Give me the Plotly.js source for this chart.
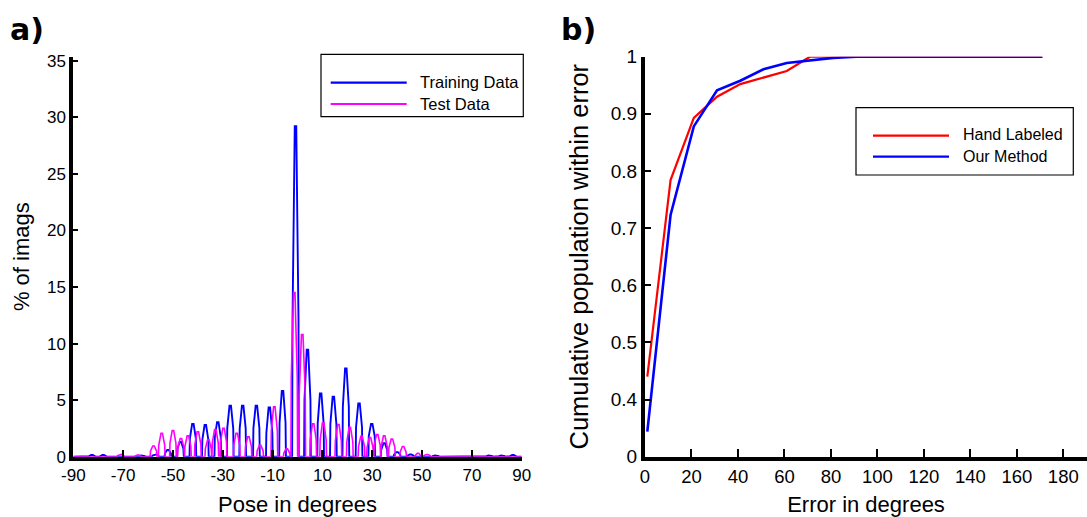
<!DOCTYPE html>
<html><head><meta charset="utf-8">
<script src="https://cdn.plot.ly/plotly-3.0.1.min.js"></script>
<style>html,body{margin:0;padding:0;background:#fff;}#chart{width:1087px;height:517px;}</style>
</head><body><div id="chart"></div>
<script>
// ---------- Panel a) : pose histograms (% of images) ----------
const trainPose  = [-82.5, -78, -62.5, -57, -52, -47, -42, -37, -32, -27, -22, -16.5, -11.3, -6, -0.8, 4, 9.3, 14.4, 19.4, 24.7, 29.8, 34.8, 40, 45.4, 55.5, 77, 82, 86.5];
const trainPct   = [0.15, 0.15, 0.1, 0.2, 0.6, 1.3, 2.9, 2.8, 3.05, 4.5, 4.5, 4.5, 4.36, 5.8, 29.2, 9.45, 5.6, 5.3, 7.8, 4.7, 2.9, 1.2, 0.4, 0.2, 0.1, 0.1, 0.1, 0.15];
const trainShoul = [0.05, 0.05, 0.05, 0.1, 0.3, 0.7, 1.6, 1.5, 1.7, 2.5, 2.5, 2.5, 2.1, 3.0, 12.1, 5.0, 2.9, 2.9, 4.4, 2.6, 1.8, 0.6, 0.2, 0.1, 0.05, 0.05, 0.05, 0.05];

const testPose   = [-71, -64, -57.8, -54.5, -50.0, -46.8, -44.0, -40.0, -35.8, -33.0, -29.7, -24.4, -19.7, -15.0, -9.3, -4.3, -1.3, 1.9, 6.3, 10.3, 16.4, 21.0, 25.7, 29.1, 32.0, 34.8, 37.9, 42.4, 48.4, 52];
const testPct    = [0.2, 0.15, 0.95, 2.06, 2.3, 1.6, 1.85, 2.2, 1.5, 2.4, 2.5, 2.06, 1.75, 1.0, 4.4, 0.7, 14.5, 10.8, 2.9, 3.0, 2.85, 2.6, 1.8, 1.7, 1.95, 1.85, 1.55, 0.9, 0.3, 0.2];
const testShoul  = [0.1, 0.05, 0.5, 1.0, 1.2, 0.8, 0.9, 1.1, 0.7, 1.2, 1.3, 1.0, 0.9, 0.5, 2.3, 0.3, 7.0, 5.6, 1.5, 1.5, 1.4, 1.3, 0.9, 0.8, 1.0, 0.9, 0.8, 0.4, 0.1, 0.1];

const poseTicks = [-90, -70, -50, -30, -10, 10, 30, 50, 70, 90];
const poseTickText = ['-90', '-70', '-50', '-30', '-10', '10', '30', '50', '70', '90'];
const pctTicks  = [0, 5, 10, 15, 20, 25, 30, 35];

// ---------- Panel b) : cumulative error curves ----------
const errorDeg    = [1, 11, 21, 31, 41, 51, 61, 71, 81, 91, 101, 111, 121, 131, 141, 151, 161, 171];
const handLabeled = [0.44, 0.784, 0.893, 0.930, 0.952, 0.964, 0.975, 1.0, 1.0, 1.0, 1.0, 1.0, 1.0, 1.0, 1.0, 1.0, 1.0, 1.0];
const ourMethod   = [0.344, 0.723, 0.878, 0.941, 0.958, 0.978, 0.989, 0.994, 0.998, 1.0, 1.0, 1.0, 1.0, 1.0, 1.0, 1.0, 1.0, 1.0];
const errTicks    = [0, 20, 40, 60, 80, 100, 120, 140, 160, 180];
const cumTickVals = [0.3, 0.4, 0.5, 0.6, 0.7, 0.8, 0.9, 1.0];
const cumTickText = ['0', '0.4', '0.5', '0.6', '0.7', '0.8', '0.9', '1'];

// ---------- helpers ----------
const W = 1087, H = 517;
const px = v => v / W, py = v => 1 - v / H;
const FONT = 'Liberation Sans, Arial, Helvetica, sans-serif';

// histogram spikes drawn as a polyline through each peak (base, shoulder, top)
function spikeLine(pos, peak, shoulder) {
  const x = [-90], y = [0];
  for (let i = 0; i < pos.length; i++) {
    const c = pos[i];
    x.push(c - 1.35, c - 1.2, c - 0.3, c + 0.3, c + 1.2, c + 1.35);
    y.push(0, shoulder[i], peak[i], peak[i], shoulder[i], 0);
  }
  x.push(90); y.push(0);
  return {x, y};
}
const tr = spikeLine(trainPose, trainPct, trainShoul);
const te = spikeLine(testPose, testPct, testShoul);

const traces = [
  {x: tr.x, y: tr.y, type: 'scatter', mode: 'lines', name: 'Training Data', line: {color: '#0000ff', width: 1.9}, xaxis: 'x', yaxis: 'y'},
  {x: te.x, y: te.y, type: 'scatter', mode: 'lines', name: 'Test Data', line: {color: '#ff00ff', width: 1.6}, xaxis: 'x', yaxis: 'y'},
  {x: errorDeg, y: handLabeled, type: 'scatter', mode: 'lines', name: 'Hand Labeled', line: {color: '#ff0000', width: 2.2}, xaxis: 'x2', yaxis: 'y2'},
  {x: errorDeg, y: ourMethod, type: 'scatter', mode: 'lines', name: 'Our Method', line: {color: '#0000ff', width: 2.6}, xaxis: 'x2', yaxis: 'y2'}
];

const yDom = [py(456.7), py(56.7)];
const axBase = {showgrid: false, zeroline: false, showline: true, linecolor: '#000', linewidth: 4,
  ticks: 'inside', tickcolor: '#000', automargin: false, fixedrange: true};

const layout = {
  width: W, height: H, margin: {l: 0, r: 0, t: 0, b: 0, pad: 0},
  paper_bgcolor: '#fff', plot_bgcolor: '#fff', showlegend: false,
  font: {family: FONT, color: '#000'},
  xaxis: Object.assign({}, axBase, {domain: [px(73.3), px(521.7)], range: [-90, 90], tickvals: poseTicks, ticktext: poseTickText,
    ticklen: 7, tickwidth: 2.5, tickfont: {size: 17}, anchor: 'y',
    title: {text: 'Pose in degrees', font: {size: 22}, standoff: 16}}),
  yaxis: Object.assign({}, axBase, {domain: yDom, range: [0, 35.35], tickvals: pctTicks,
    ticklen: 5, tickwidth: 2, tickfont: {size: 17}, anchor: 'x',
    title: {text: '% of imags', font: {size: 22}, standoff: 12}}),
  xaxis2: Object.assign({}, axBase, {domain: [px(645), 1], range: [0, 190.2], tickvals: errTicks,
    ticklen: 8, tickwidth: 2, tickfont: {size: 18.5}, anchor: 'y2',
    title: {text: 'Error in degrees', font: {size: 22}, standoff: 13}}),
  yaxis2: Object.assign({}, axBase, {domain: yDom, range: [0.3, 1.0], tickvals: cumTickVals, ticktext: cumTickText,
    ticklen: 6, tickwidth: 2, tickfont: {size: 19}, anchor: 'x2',
    title: {text: 'Cumulative population within error', font: {size: 25.5}, standoff: 16}}),
  shapes: [
    // legend a)
    {type: 'rect', xref: 'paper', yref: 'paper', x0: px(321), x1: px(523.3), y0: py(116.7), y1: py(54.3), line: {color: '#000', width: 1.2}, fillcolor: '#fff', layer: 'above'},
    {type: 'line', xref: 'paper', yref: 'paper', x0: px(330.7), x1: px(406.7), y0: py(82.7), y1: py(82.7), line: {color: '#0000ff', width: 2.2}},
    {type: 'line', xref: 'paper', yref: 'paper', x0: px(330.7), x1: px(406.7), y0: py(104), y1: py(104), line: {color: '#ff00ff', width: 2.2}},
    // legend b)
    {type: 'rect', xref: 'paper', yref: 'paper', x0: px(856), x1: px(1073.3), y0: py(175), y1: py(107.7), line: {color: '#000', width: 1.2}, fillcolor: '#fff', layer: 'above'},
    {type: 'line', xref: 'paper', yref: 'paper', x0: px(873), x1: px(949), y0: py(135.7), y1: py(135.7), line: {color: '#ff0000', width: 2.2}},
    {type: 'line', xref: 'paper', yref: 'paper', x0: px(873), x1: px(949), y0: py(156.7), y1: py(156.7), line: {color: '#0000ff', width: 2.2}}
  ],
  annotations: [
    {text: 'Training Data', xref: 'paper', yref: 'paper', x: px(418), y: py(82.5), xanchor: 'left', yanchor: 'middle', showarrow: false, font: {size: 16.5}},
    {text: 'Test Data', xref: 'paper', yref: 'paper', x: px(418), y: py(104), xanchor: 'left', yanchor: 'middle', showarrow: false, font: {size: 16.5}},
    {text: 'Hand Labeled', xref: 'paper', yref: 'paper', x: px(961), y: py(135), xanchor: 'left', yanchor: 'middle', showarrow: false, font: {size: 16}},
    {text: 'Our Method', xref: 'paper', yref: 'paper', x: px(961), y: py(156.5), xanchor: 'left', yanchor: 'middle', showarrow: false, font: {size: 16}},
    {text: '<b>a)</b>', xref: 'paper', yref: 'paper', x: px(8), y: py(30), xanchor: 'left', yanchor: 'middle', showarrow: false, font: {size: 30, family: 'DejaVu Sans, sans-serif'}},
    {text: '<b>b)</b>', xref: 'paper', yref: 'paper', x: px(559), y: py(30), xanchor: 'left', yanchor: 'middle', showarrow: false, font: {size: 30, family: 'DejaVu Sans, sans-serif'}}
  ]
};

Plotly.newPlot('chart', traces, layout, {staticPlot: true, displayModeBar: false});
</script>
</body></html>
